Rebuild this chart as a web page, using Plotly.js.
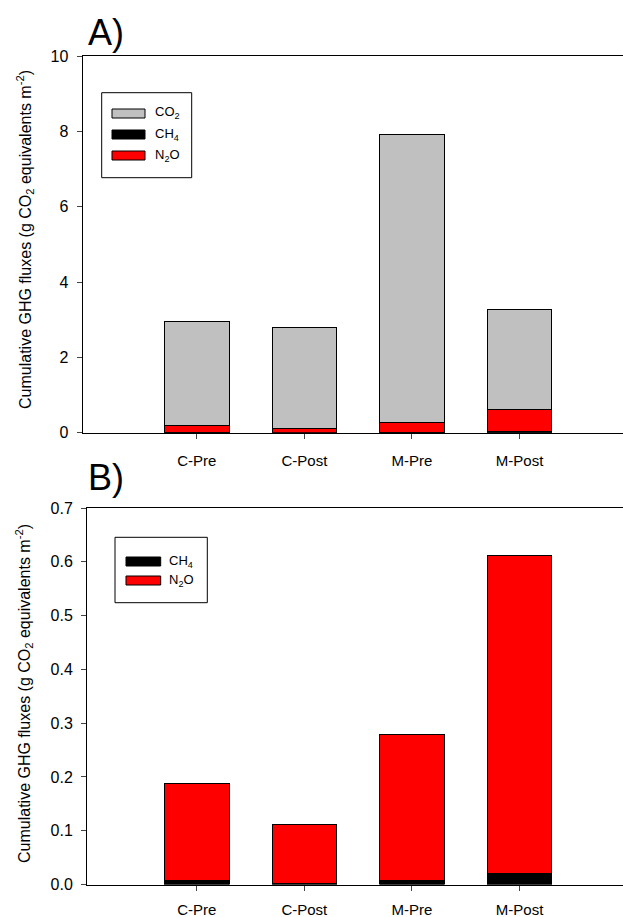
<!DOCTYPE html>
<html>
<head>
<meta charset="utf-8">
<script src="https://cdn.plot.ly/plotly-3.0.1.min.js"></script>
<style>html,body{margin:0;padding:0;background:#fff;}#chart{width:623px;height:917px;}</style>
</head>
<body>
<div id="chart"></div>
<script>
// ---- data ----
const categories = ['C-Pre', 'C-Post', 'M-Pre', 'M-Post'];
const co2 = [2.78, 2.68, 7.65, 2.65];
const ch4 = [0.007, 0.002, 0.008, 0.020];
const n2o = [0.180, 0.109, 0.270, 0.591];
const yTicksA = [0, 2, 4, 6, 8, 10];
const yTicksB = [0, 0.1, 0.2, 0.3, 0.4, 0.5, 0.6, 0.7];
const yTitle = 'Cumulative GHG fluxes (g CO<sub>2</sub> equivalents m<sup>-2</sup>)';

// ---- layout helpers (pixel -> paper) ----
const W = 623, H = 917;
const px = x => x / W;
const py = y => 1 - y / H;
const FONT = 'Liberation Sans, Arial, sans-serif';

const lineStyle = {color: '#000000', width: 1};
function bar(name, y, color, xa, ya) {
  return {type: 'bar', name: name, x: categories, y: y, width: 0.6,
    marker: {color: color, line: lineStyle}, xaxis: xa, yaxis: ya, showlegend: false};
}

const traces = [
  bar('CH4', ch4, '#000000', 'x', 'y'),
  bar('N2O', n2o, '#ff0000', 'x', 'y'),
  bar('CO2', co2, '#c0c0c0', 'x', 'y'),
  bar('CH4', ch4, '#000000', 'x2', 'y2'),
  bar('N2O', n2o, '#ff0000', 'x2', 'y2')
];

const axisCommon = {showgrid: false, zeroline: false, showline: true, linecolor: '#000', linewidth: 1,
  ticks: 'outside', ticklen: 5, tickcolor: '#444', tickwidth: 1,
  tickfont: {family: FONT, size: 16, color: '#000'}, automargin: false, fixedrange: true};
const xFont = {family: FONT, size: 15, color: '#000'};

const xA = Object.assign({}, axisCommon, {domain: [px(82.5), 1], range: [-1.062, 3.961], mirror: true,
  type: 'category', anchor: 'y', ticklabelstandoff: 9, tickfont: xFont});
const xB = Object.assign({}, axisCommon, {domain: [px(87), 1], range: [-1.02, 3.961], mirror: true,
  type: 'category', anchor: 'y2', ticklabelstandoff: 6, tickfont: xFont});
const yA = Object.assign({}, axisCommon, {domain: [py(432.7), py(56.3)], range: [0, 10],
  tickvals: yTicksA, anchor: 'x', ticklabelstandoff: 5});
const yB = Object.assign({}, axisCommon, {domain: [py(884.5), py(508)], range: [0, 0.7],
  tickvals: yTicksB, tickformat: '.1f', anchor: 'x2', ticklabelstandoff: 5});

const shapes = [];
const annotations = [];
function rect(x0, y0, x1, y1, fill, lw) {
  shapes.push({type: 'rect', xref: 'paper', yref: 'paper', x0: px(x0), x1: px(x1), y0: py(y1), y1: py(y0),
    fillcolor: fill, line: {color: '#000', width: lw}, layer: 'above'});
}
function text(t, x, y, size, xanchor, angle) {
  annotations.push({text: t, xref: 'paper', yref: 'paper', x: px(x), y: py(y), xanchor: xanchor || 'left',
    yanchor: 'middle', showarrow: false, textangle: angle || 0, font: {family: FONT, size: size, color: '#000'}});
}

// legend A
rect(101.7, 92.7, 191.7, 177.7, '#ffffff', 1);
rect(112, 109, 145, 118, '#c0c0c0', 1);
rect(112, 130, 145, 139, '#000000', 1);
rect(112, 151, 145, 160, '#ff0000', 1);
text('CO<sub>2</sub>', 153, 113, 13);
text('CH<sub>4</sub>', 153, 134, 13);
text('N<sub>2</sub>O', 153, 155, 13);

// legend B
rect(115, 537.3, 207.3, 602.7, '#ffffff', 1);
rect(126, 557, 160.7, 566, '#000000', 1);
rect(126, 576, 160.7, 585, '#ff0000', 1);
text('CH<sub>4</sub>', 167, 561, 13);
text('N<sub>2</sub>O', 167, 580.5, 13);

// panel labels
text('A)', 86, 33, 36);
text('B)', 86, 478, 36);

// y titles
text(yTitle, 25, 240, 16, 'center', -90);
text(yTitle, 24, 694, 16, 'center', -90);

const layout = {
  width: W, height: H, margin: {l: 0, r: 0, t: 0, b: 0},
  paper_bgcolor: '#fff', plot_bgcolor: 'rgba(0,0,0,0)',
  barmode: 'stack', bargap: 0.4, showlegend: false,
  xaxis: xA, yaxis: yA, xaxis2: xB, yaxis2: yB,
  shapes: shapes, annotations: annotations,
  font: {family: FONT, color: '#000'}
};

Plotly.newPlot('chart', traces, layout, {staticPlot: true, displayModeBar: false});
</script>
</body>
</html>
